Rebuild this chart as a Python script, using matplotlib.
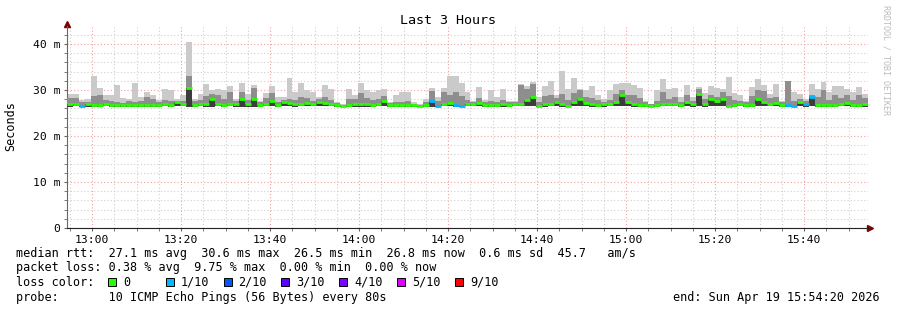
import numpy as np
import matplotlib.pyplot as plt
from matplotlib.ticker import MultipleLocator, FixedLocator
from matplotlib.patches import Rectangle

# ======================================================
# Data (ms) - one value per 80 s probe step, 12:54:20 .. 15:54:20
# ======================================================
top = [29.1, 29.1, 27.9, 28.0, 33.0, 30.5, 29.0, 29.0, 31.1, 28.3,
       28.0, 31.6, 28.4, 29.6, 28.8, 27.8, 30.3, 30.0, 28.0, 28.8,
       40.4, 28.0, 29.1, 31.2, 29.9, 30.2, 29.9, 30.9, 28.0, 31.6,
       29.1, 31.0, 27.7, 29.3, 30.9, 28.4, 28.5, 32.5, 29.6, 31.6,
       29.9, 29.6, 28.5, 31.1, 30.3, 27.4, 26.9, 30.2, 28.8, 31.6,
       30.0, 29.5, 29.9, 30.3, 27.3, 28.9, 29.5, 29.5, 27.3, 26.9,
       28.0, 30.5, 28.4, 30.5, 33.0, 33.0, 31.6, 29.6, 27.7, 30.7,
       27.9, 30.0, 28.4, 30.3, 27.7, 27.7, 31.4, 30.9, 31.7, 28.4,
       30.9, 32.0, 28.8, 34.1, 30.2, 32.5, 30.3, 29.9, 30.9, 28.8,
       28.0, 30.0, 31.2, 31.6, 31.6, 31.0, 30.5, 27.7, 27.0, 29.9,
       32.4, 30.2, 30.5, 28.4, 31.0, 28.4, 30.7, 29.3, 30.9, 30.5,
       30.2, 32.8, 29.3, 28.8, 27.7, 30.7, 32.4, 31.1, 29.1, 31.2,
       27.7, 32.0, 29.6, 29.1, 28.0, 31.2, 30.3, 31.7, 29.5, 30.9,
       30.9, 30.3, 29.5, 30.7, 29.1]

mid = [28.2, 28.2, 27.3, 27.3, 28.6, 29.0, 27.8, 27.5, 27.4, 27.2,
       27.6, 27.3, 27.6, 28.4, 28.0, 27.4, 27.8, 27.7, 27.6, 27.6,
       33.0, 27.5, 27.8, 28.6, 29.2, 28.9, 28.0, 29.5, 27.6, 29.6,
       27.8, 30.4, 27.4, 28.3, 29.3, 27.4, 27.9, 28.0, 27.8, 28.4,
       28.2, 27.7, 28.0, 28.5, 27.9, 27.1, 26.8, 28.0, 28.0, 29.4,
       28.3, 27.8, 28.0, 28.6, 27.1, 27.4, 27.3, 27.5, 27.0, 26.8,
       27.3, 29.8, 27.6, 29.5, 29.0, 29.6, 28.6, 27.8, 27.3, 28.3,
       27.4, 27.6, 27.4, 27.8, 27.3, 27.4, 31.0, 30.2, 31.4, 27.4,
       28.6, 29.0, 28.2, 29.2, 27.8, 29.4, 30.0, 28.4, 28.2, 27.8,
       27.4, 27.9, 29.2, 30.0, 29.0, 28.8, 28.3, 27.3, 26.9, 27.6,
       29.6, 28.0, 28.4, 27.4, 28.8, 27.6, 30.2, 28.0, 29.0, 28.5,
       29.5, 28.6, 27.8, 27.5, 27.3, 28.6, 30.0, 29.8, 28.3, 28.5,
       27.3, 32.0, 27.6, 28.0, 27.6, 29.0, 28.4, 30.0, 27.8, 29.0,
       28.3, 29.0, 27.8, 29.0, 28.3]

median = [26.9, 27.0, 26.6, 26.9, 26.8, 26.8, 26.9, 26.8, 26.7, 26.8,
          26.8, 26.8, 26.8, 26.7, 26.8, 26.8, 26.9, 26.7, 27.4, 27.0,
          30.4, 26.8, 27.0, 26.9, 28.1, 27.0, 26.7, 27.0, 26.9, 28.1,
          26.9, 28.1, 26.7, 27.0, 27.6, 26.8, 27.3, 27.1, 26.9, 27.0,
          27.1, 27.0, 27.3, 27.2, 27.0, 26.8, 26.6, 26.8, 26.9, 26.9,
          26.9, 26.8, 27.0, 27.6, 26.8, 26.8, 26.7, 26.8, 26.8, 26.6,
          26.7, 27.6, 26.6, 27.0, 27.1, 26.7, 26.6, 27.0, 27.0, 27.1,
          26.8, 26.8, 26.8, 26.9, 26.7, 27.0, 27.0, 27.8, 28.4, 26.6,
          26.9, 27.0, 27.4, 26.9, 26.6, 27.4, 28.1, 27.2, 26.9, 26.7,
          26.9, 27.0, 27.3, 28.8, 27.4, 26.9, 26.8, 26.8, 26.6, 26.8,
          27.0, 27.0, 27.0, 26.8, 27.4, 26.9, 29.2, 26.9, 28.0, 27.5,
          28.1, 26.6, 26.7, 27.0, 26.8, 26.8, 28.1, 27.3, 27.0, 27.2,
          26.7, 26.8, 26.6, 27.3, 26.9, 28.4, 26.7, 26.7, 26.8, 26.8,
          27.0, 27.2, 26.7, 26.8, 26.9]

low = [26.4, 26.5, 26.2, 26.4, 26.4, 26.4, 26.5, 26.4, 26.3, 26.4,
       26.4, 26.4, 26.4, 26.3, 26.4, 26.4, 26.5, 26.3, 26.5, 26.5,
       26.4, 26.4, 26.5, 26.4, 26.4, 26.5, 26.3, 26.5, 26.4, 26.4,
       26.4, 26.4, 26.3, 26.5, 26.5, 26.4, 26.5, 26.5, 26.4, 26.5,
       26.5, 26.5, 26.5, 26.5, 26.5, 26.4, 26.2, 26.4, 26.4, 26.4,
       26.4, 26.4, 26.5, 26.5, 26.4, 26.4, 26.3, 26.4, 26.4, 26.2,
       26.3, 26.4, 26.2, 26.5, 26.5, 26.3, 26.2, 26.5, 26.5, 26.5,
       26.4, 26.4, 26.4, 26.4, 26.3, 26.5, 26.5, 26.5, 26.5, 26.2,
       26.4, 26.5, 26.5, 26.4, 26.2, 26.5, 26.5, 26.5, 26.4, 26.3,
       26.4, 26.5, 26.5, 26.5, 26.5, 26.4, 26.4, 26.4, 26.2, 26.4,
       26.5, 26.5, 26.5, 26.4, 26.5, 26.4, 26.5, 26.4, 26.5, 26.5,
       26.5, 26.2, 26.3, 26.5, 26.4, 26.4, 26.5, 26.5, 26.5, 26.5,
       26.3, 26.4, 26.2, 26.5, 26.4, 26.5, 26.3, 26.3, 26.4, 26.4,
       26.5, 26.5, 26.3, 26.4, 26.4]

# lost pings (out of 10) per step
loss = [0, 0, 1, 0, 0, 0, 0, 0, 0, 0, 0, 0, 0, 0, 0, 0, 0, 0, 0, 0,
        0, 0, 0, 0, 0, 0, 0, 0, 0, 0, 0, 0, 0, 0, 0, 0, 0, 0, 0, 0,
        0, 0, 0, 0, 0, 0, 0, 0, 0, 0, 0, 0, 0, 0, 0, 0, 0, 0, 0, 0,
        0, 1, 1, 0, 0, 1, 1, 0, 0, 0, 0, 0, 0, 0, 0, 0, 0, 0, 0, 0,
        0, 0, 0, 0, 0, 0, 0, 0, 0, 0, 0, 0, 0, 0, 0, 0, 0, 0, 0, 0,
        0, 0, 0, 0, 0, 0, 0, 0, 0, 0, 0, 0, 0, 0, 0, 0, 0, 0, 0, 0,
        0, 1, 1, 0, 1, 1, 0, 0, 0, 0, 0, 0, 0, 0, 0]

step_sec = 80
start_label = "12:54:20"
tick_labels = ["13:00", "13:20", "13:40", "14:00", "14:20", "14:40",
               "15:00", "15:20", "15:40"]

loss_names = ["0", "1/10", "2/10", "3/10", "4/10", "5/10", "9/10"]
loss_colors = ["#26ff00", "#00b8ff", "#0059ff", "#5e00ff", "#7e00ff",
               "#dd00ff", "#ff0000"]
loss_map = {0: "#26ff00", 1: "#00b8ff"}

legend_lines = [
    "median rtt:  27.1 ms avg  30.6 ms max  26.5 ms min  26.8 ms now  0.6 ms sd  45.7   am/s",
    "packet loss: 0.38 % avg  9.75 % max  0.00 % min  0.00 % now",
    "loss color:",
    "probe:       10 ICMP Echo Pings (56 Bytes) every 80s",
]
end_text = "end: Sun Apr 19 15:54:20 2026"

# ======================================================
# Figure
# ======================================================
MONO = "DejaVu Sans Mono"
W, H = 897, 310
fig = plt.figure(figsize=(W / 100, H / 100), dpi=100)
ax = fig.add_axes([67 / W, 1 - 228 / H, (868 - 67) / W, (228 - 26) / H])

n = len(median)
x = np.arange(n) * step_sec / 60.0  # minutes since start
width = step_sec / 60.0
top_a, mid_a, med_a, low_a = map(np.array, (top, mid, median, low))

# smoke
ax.bar(x, top_a - low_a, bottom=low_a, width=width, align="edge",
       color="#cacaca", linewidth=0, zorder=2)
ax.bar(x, mid_a - low_a, bottom=low_a, width=width, align="edge",
       color="#8e8e8e", linewidth=0, zorder=3)
ax.bar(x, med_a - low_a, bottom=low_a, width=width, align="edge",
       color="#3c3c3c", linewidth=0, zorder=4)
# median, coloured by loss
ax.hlines(med_a, x, x + width, colors=[loss_map[l] for l in loss],
          linewidth=2.0, zorder=5)

# time ticks
h0, m0, s0 = map(int, start_label.split(":"))
t0 = h0 * 60 + m0 + s0 / 60.0
tick_pos = []
for lab in tick_labels:
    hh, mm = map(int, lab.split(":"))
    tick_pos.append(hh * 60 + mm - t0)
ax.xaxis.set_major_locator(FixedLocator(tick_pos))
ax.set_xticklabels(tick_labels)
ax.xaxis.set_minor_locator(FixedLocator(np.arange(tick_pos[0] - 5, n * width, 5)))
ax.set_xlim(0, n * width)

ax.set_ylim(0, 43.9)
ax.yaxis.set_major_locator(MultipleLocator(10))
ax.yaxis.set_minor_locator(MultipleLocator(2))
ax.set_yticklabels(["0" if v == 0 else "%d m" % v for v in ax.get_yticks()])

ax.grid(which="minor", color="#cfcfcf", linestyle=(0, (1, 2)), linewidth=0.8, zorder=1)
ax.grid(which="major", color="#f2a0a0", linestyle=(0, (1, 2)), linewidth=0.8, zorder=1)
ax.set_axisbelow(True)

for s in ("top", "right"):
    ax.spines[s].set_visible(False)
ax.spines["left"].set_color("#666666")
ax.spines["bottom"].set_color("#222222")
ax.tick_params(which="both", length=2, color="#666666", labelsize=8.2, pad=3)
for t in ax.get_xticklabels() + ax.get_yticklabels():
    t.set_family(MONO)

# axis arrows
ax.plot([0], [1.01], marker="^", color="#800000", markersize=4,
        transform=ax.transAxes, clip_on=False)
ax.plot([1.003], [0], marker=">", color="#800000", markersize=4,
        transform=ax.transAxes, clip_on=False)

fig.text(448 / W, 1 - 20 / H, "Last 3 Hours", family=MONO, fontsize=9.6,
         ha="center", va="center")
fig.text(11 / W, 1 - 126 / H, "Seconds", family=MONO, fontsize=8.5,
         rotation=90, ha="center", va="center")
fig.text(886 / W, 1 - 5 / H, "RRDTOOL / TOBI OETIKER", family=MONO,
         fontsize=6, color="#bbbbbb", rotation=270, ha="center", va="top")

# legend block
ys = [254, 268, 282, 297]
for txt, yy in zip(legend_lines, ys):
    fig.text(16 / W, 1 - yy / H, txt, family=MONO, fontsize=8.5, va="center")
for i, (name, col) in enumerate(zip(loss_names, loss_colors)):
    x0 = 108 + i * 57.8
    fig.patches.append(Rectangle((x0 / W, 1 - 286 / H), 8 / W, 8 / H,
                                 facecolor=col, edgecolor="black", linewidth=0.7,
                                 transform=fig.transFigure, figure=fig))
    fig.text((x0 + 15) / W, 1 - 282 / H, name, family=MONO, fontsize=8.5, va="center")
fig.text(880 / W, 1 - 297 / H, end_text, family=MONO, fontsize=8.5,
         ha="right", va="center")

fig.savefig("out.png", dpi=100)
